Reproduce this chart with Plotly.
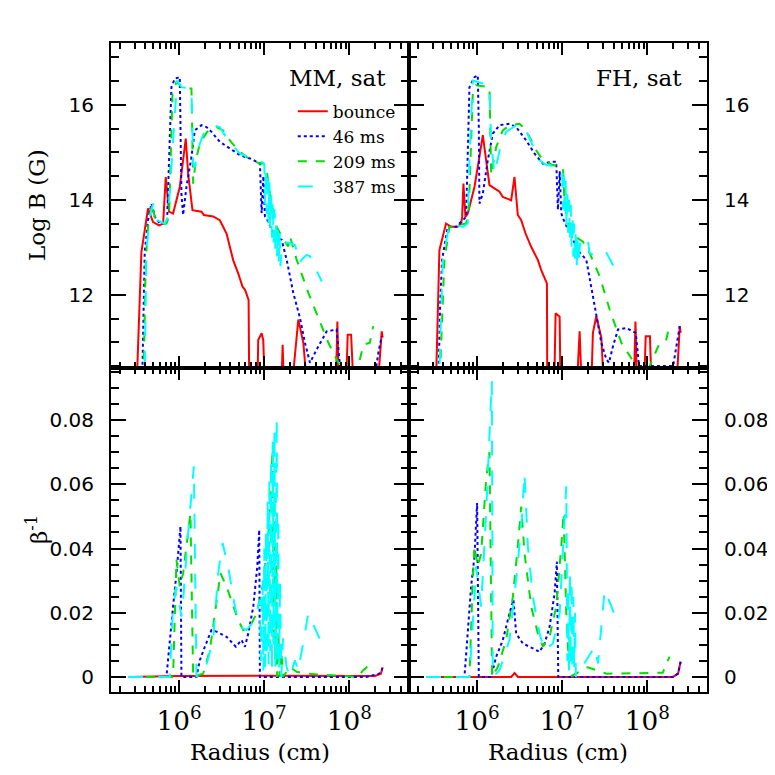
import numpy as np
import plotly.graph_objects as go

# radius values are stored as log10(r / cm)
# ---------------- top left: MM, sat (Log B) ----------------
tl_bounce_r = [5.40, 5.50, 5.557, 5.635, 5.694, 5.765, 5.812, 5.843, 5.882, 5.929, 6.008, 6.078, 6.106,
               6.157, 6.263, 6.290, 6.400, 6.478, 6.557, 6.635, 6.694, 6.745, 6.776, 6.816, 6.824,
               6.920, 6.929, 6.969, 6.988, 7.008, 7.20, 7.216, 7.232, 7.322, 7.40, 7.459, 7.506,
               7.84, 7.859, 7.875, 7.96, 7.98, 8.02, 8.05, 8.33, 8.38, 8.39]
tl_bounce_b = [10.0, 10.0, 12.90, 13.82, 13.53, 13.46, 13.50, 14.48, 13.75, 13.71, 14.27, 15.29, 14.55,
               13.78, 13.75, 13.68, 13.65, 13.57, 13.29, 12.73, 12.45, 12.17, 12.10, 11.89, 10.0,
               10.0, 11.05, 11.19, 11.05, 10.0, 10.0, 10.95, 10.0, 10.0, 11.48, 10.99, 10.0,
               10.0, 11.44, 10.0, 10.0, 11.16, 11.16, 10.0, 10.0, 11.23, 11.10]
tl_46_r = [5.40, 5.569, 5.596, 5.635, 5.675, 5.714, 5.773, 5.831, 5.859, 5.882, 5.910, 5.949, 6.008,
           6.027, 6.047, 6.086, 6.145, 6.184, 6.263, 6.322, 6.380, 6.478, 6.596, 6.714, 6.831, 6.929,
           6.949, 6.969, 6.99, 7.008, 7.03, 7.067, 7.14, 7.204, 7.263, 7.341, 7.420, 7.478, 7.537,
           7.616, 7.733, 7.85, 7.87, 7.90, 8.30, 8.34, 8.38]
tl_46_b = [10.0, 10.4, 12.90, 13.57, 13.92, 13.64, 13.50, 13.50, 13.57, 14.83, 16.37, 16.55, 16.58,
           14.13, 13.68, 14.27, 14.90, 15.46, 15.57, 15.53, 15.43, 15.22, 15.08, 14.94, 14.87, 14.80,
           14.77, 13.72, 14.50, 13.65, 13.60, 13.45, 13.20, 13.16, 12.74, 12.04, 11.51, 10.99, 10.57,
           10.85, 11.23, 11.27, 10.90, 10.30, 10.30, 10.78, 11.13]
tl_209_r = [5.40, 5.584, 5.608, 5.635, 5.682, 5.714, 5.792, 5.851, 5.882, 5.922, 5.969, 6.047, 6.145,
            6.165, 6.196, 6.243, 6.329, 6.439, 6.518, 6.596, 6.694, 6.792, 6.949, 6.988, 7.027, 7.067,
            7.106, 7.145, 7.224, 7.282, 7.302, 7.38, 7.518, 7.675, 7.753, 7.89, 7.92, 8.09, 8.165,
            8.24, 8.28]
tl_209_b = [10.0, 10.4, 12.73, 13.43, 13.92, 13.64, 13.50, 13.50, 13.64, 16.23, 16.48, 16.37, 16.34,
            14.34, 14.83, 15.18, 15.43, 15.53, 15.46, 15.25, 15.04, 14.90, 14.76, 14.77, 14.63, 14.14,
            13.79, 13.44, 13.16, 13.02, 13.23, 12.74, 12.04, 11.34, 10.99, 10.50, 10.20, 10.40, 10.95,
            10.99, 11.34]
tl_387_r = [5.40, 5.596, 5.616, 5.655, 5.694, 5.741, 5.831, 5.871, 5.976, 6.027, 6.145, 6.165, 6.184,
            6.243, 6.302, 6.400, 6.478, 6.576, 6.714, 6.812, 6.929, 6.99, 7.00, 7.01, 7.02, 7.03,
            7.04, 7.05, 7.06, 7.07, 7.08, 7.09, 7.10, 7.11, 7.12, 7.13, 7.14, 7.15, 7.16, 7.17, 7.18,
            7.19, 7.21, 7.28, 7.361, 7.42, 7.44, 7.498, 7.537, 7.675]
tl_387_b = [10.0, 10.4, 12.94, 13.64, 13.92, 13.57, 13.50, 13.64, 16.51, 16.37, 16.34, 14.76, 14.69,
            15.18, 15.46, 15.57, 15.53, 15.25, 14.97, 14.90, 14.83, 14.78, 14.75, 13.90, 14.70, 13.70,
            14.60, 13.50, 14.40, 13.40, 14.20, 13.20, 14.00, 13.10, 13.80, 12.90, 13.60, 12.80, 13.40,
            12.70, 13.30, 12.60, 13.10, 13.10, 13.05, 12.67, 12.74, 12.84, 12.81, 12.28]

# ---------------- top right: FH, sat (Log B) ----------------
tr_bounce_r = [5.40, 5.518, 5.557, 5.635, 5.694, 5.773, 5.812, 5.824, 5.839, 5.863, 5.890, 5.969,
               6.020, 6.067, 6.106, 6.145, 6.204, 6.263, 6.302, 6.400, 6.439, 6.478, 6.518, 6.569,
               6.635, 6.714, 6.753, 6.804, 6.820, 6.824, 6.905, 6.922, 6.969, 6.98, 7.17, 7.204,
               7.23, 7.34, 7.36, 7.40, 7.459, 7.49, 7.84, 7.86, 7.88, 7.96, 7.98, 8.03, 8.05, 8.34,
               8.38, 8.39]
tr_bounce_b = [10.0, 10.2, 12.94, 13.50, 13.43, 13.43, 13.50, 13.64, 14.34, 13.64, 13.71, 14.27,
               14.83, 15.36, 14.83, 14.31, 14.24, 14.17, 14.06, 13.99, 14.48, 13.68, 13.57, 13.29,
               13.01, 12.73, 12.52, 12.31, 12.24, 10.0, 10.0, 11.61, 11.54, 10.0, 10.0, 11.23,
               10.0, 10.0, 11.20, 11.55, 11.10, 10.0, 10.0, 11.44, 10.0, 10.0, 11.13, 11.13, 10.0, 10.0,
               11.34, 11.20]
tr_46_r = [5.40, 5.549, 5.565, 5.588, 5.655, 5.753, 5.871, 5.890, 5.910, 5.969, 6.008, 6.020, 6.027,
           6.067, 6.125, 6.184, 6.263, 6.380, 6.459, 6.576, 6.675, 6.773, 6.871, 6.929, 6.949, 6.97,
           6.988, 7.01, 7.086, 7.20, 7.282, 7.353, 7.40, 7.459, 7.518, 7.549, 7.596, 7.655, 7.753,
           7.863, 7.902, 8.302, 8.341, 8.380]
tr_46_b = [10.0, 10.4, 11.75, 12.73, 13.43, 13.43, 13.64, 14.83, 16.37, 16.58, 16.62, 15.53, 13.92,
           14.13, 14.83, 15.39, 15.57, 15.60, 15.53, 15.25, 14.97, 14.76, 14.80, 14.80, 13.79, 14.60,
           13.72, 13.60, 13.30, 12.90, 12.74, 12.04, 11.55, 10.99, 10.64, 10.57, 10.92, 11.27, 11.30,
           11.20, 10.50, 10.50, 10.92, 11.34]
tr_209_r = [5.40, 5.565, 5.616, 5.675, 5.792, 5.871, 5.902, 5.949, 5.988, 6.145, 6.165, 6.224, 6.302,
            6.380, 6.498, 6.576, 6.694, 6.773, 6.890, 7.008, 7.027, 7.066, 7.145, 7.243, 7.321, 7.439,
            7.557, 7.694, 7.870, 7.95, 8.027, 8.145, 8.223, 8.263]
tr_209_b = [10.0, 10.4, 12.73, 13.43, 13.47, 13.50, 13.78, 16.23, 16.41, 16.37, 14.52, 15.11, 15.46,
            15.57, 15.60, 15.46, 15.04, 14.83, 14.73, 14.69, 13.93, 13.51, 13.23, 13.12, 12.88, 12.39,
            11.69, 10.99, 10.50, 10.30, 10.50, 10.99, 11.06, 11.41]
tr_387_r = [5.40, 5.557, 5.596, 5.675, 5.831, 5.890, 5.910, 5.949, 5.969, 6.145, 6.165, 6.204, 6.282,
            6.341, 6.459, 6.557, 6.616, 6.733, 6.812, 6.99, 7.00, 7.01, 7.02, 7.03, 7.04, 7.05, 7.06,
            7.07, 7.08, 7.09, 7.10, 7.11, 7.12, 7.13, 7.14, 7.15, 7.16, 7.17, 7.18, 7.19, 7.21, 7.243,
            7.30, 7.32, 7.40, 7.42, 7.44, 7.52, 7.655]
tr_387_b = [10.0, 10.4, 12.73, 13.50, 13.43, 13.50, 14.83, 16.51, 16.50, 16.41, 15.18, 14.55, 15.18,
            15.43, 15.57, 15.53, 15.29, 14.83, 14.73, 14.69, 14.60, 13.80, 14.50, 13.60, 14.40, 13.40,
            14.20, 13.30, 14.00, 13.10, 13.90, 12.95, 13.70, 12.80, 13.50, 12.70, 13.40, 12.60, 13.20,
            12.65, 13.10, 13.23, 13.16, 12.88, 12.81, 12.84, 12.81, 12.88, 12.42]

# ---------------- bottom left: MM, sat (1/beta) ----------------
bl_bounce_r = [5.40, 6.00, 7.00, 8.30, 8.37, 8.39]
bl_bounce_v = [0.0, 0.0003, 0.0004, 0.0003, 0.0010, 0.0030]
bl_46_r = [5.40, 5.851, 5.929, 5.969, 6.016, 6.027, 6.204, 6.243, 6.302, 6.380, 6.439, 6.557, 6.667,
           6.733, 6.773, 6.812, 6.871, 6.918, 6.941, 6.949, 7.50, 8.20, 8.35, 8.39]
bl_46_v = [0.0, 0.0, 0.0219, 0.0323, 0.0469, 0.0, 0.0, 0.0052, 0.0094, 0.0146, 0.0141, 0.0125, 0.0094,
           0.0115, 0.0094, 0.0135, 0.0219, 0.0344, 0.0458, 0.0, 0.0, 0.0, 0.0010, 0.0027]
bl_209_r = [5.40, 5.929, 5.969, 6.008, 6.047, 6.133, 6.165, 6.282, 6.361, 6.439, 6.486, 6.557, 6.635,
            6.694, 6.753, 6.831, 6.910, 6.988, 7.05, 7.098, 7.11, 7.12, 7.13, 7.14, 7.15, 7.16, 7.18,
            7.20, 7.22, 7.302, 7.38, 7.498, 8.10, 8.16, 8.26]
bl_209_v = [0.0, 0.0, 0.0365, 0.0281, 0.0323, 0.0510, 0.0, 0.0010, 0.0083, 0.0240, 0.0323, 0.0281,
            0.0219, 0.0177, 0.0146, 0.0156, 0.0198, 0.0292, 0.0450, 0.0708, 0.0100, 0.0550, 0.0050,
            0.0350, 0.0, 0.0200, 0.0, 0.0080, 0.0, 0.0031, 0.0016, 0.0010, 0.0, 0.0020, 0.0043]
bl_387_r = [5.40, 5.89, 5.929, 5.969, 6.027, 6.047, 6.106, 6.173, 6.204, 6.302, 6.40, 6.459, 6.51,
            6.576, 6.655, 6.714, 6.792, 6.89, 6.949, 6.96, 6.98, 6.99, 7.00, 7.01, 7.02, 7.03, 7.04,
            7.05, 7.06, 7.07, 7.08, 7.09, 7.10, 7.11, 7.12, 7.13, 7.146, 7.155, 7.165, 7.175, 7.185,
            7.20, 7.22, 7.263, 7.30, 7.36, 7.40, 7.518, 7.675]
bl_387_v = [0.0, 0.0, 0.0219, 0.0280, 0.0188, 0.0240, 0.0448, 0.0656, 0.0, 0.0020, 0.0115, 0.0323,
            0.0417, 0.0344, 0.0219, 0.0156, 0.0146, 0.0177, 0.0240, 0.0050, 0.0300, 0.0020, 0.0400,
            0.0030, 0.0450, 0.0060, 0.0550, 0.0040, 0.0620, 0.0080, 0.0680, 0.0020, 0.0740, 0.0100,
            0.0770, 0.0030, 0.0808, 0.0050, 0.0500, 0.0020, 0.0300, 0.0, 0.0120, 0.0031, 0.0, 0.0052,
            0.0020, 0.0198, 0.0104]

# ---------------- bottom right: FH, sat (1/beta) ----------------
br_bounce_r = [5.40, 6.40, 6.44, 6.48, 8.30, 8.36, 8.39]
br_bounce_v = [0.0, 0.0, 0.0012, 0.0, 0.0, 0.0010, 0.0047]
br_46_r = [5.40, 5.851, 5.878, 5.929, 5.969, 6.0, 6.020, 6.165, 6.224, 6.302, 6.380, 6.427, 6.459,
           6.537, 6.655, 6.733, 6.792, 6.851, 6.910, 6.937, 6.953, 7.50, 8.30, 8.36, 8.39]
br_46_v = [0.0, 0.0, 0.0094, 0.0281, 0.0375, 0.0542, 0.0, 0.0, 0.0063, 0.0115, 0.0198, 0.0240, 0.0135,
           0.0104, 0.0089, 0.0078, 0.0104, 0.0156, 0.0260, 0.0359, 0.0, 0.0, 0.0, 0.0010, 0.0047]
br_209_r = [5.40, 5.91, 5.949, 5.969, 6.008, 6.047, 6.106, 6.145, 6.176, 6.243, 6.341, 6.42, 6.478,
            6.518, 6.557, 6.635, 6.714, 6.773, 6.851, 6.929, 6.988, 7.016, 7.047, 7.086, 7.30, 7.40,
            7.52, 8.18, 8.26]
br_209_v = [0.0, 0.0, 0.0300, 0.0406, 0.0344, 0.0385, 0.0615, 0.0700, 0.0, 0.0031, 0.0115, 0.0250,
            0.0406, 0.0531, 0.0385, 0.0219, 0.0135, 0.0094, 0.0125, 0.0219, 0.0406, 0.0510, 0.0200,
            0.0, 0.0030, 0.0020, 0.0010, 0.0013, 0.0063]
br_387_r = [5.40, 5.91, 5.969, 5.988, 6.047, 6.106, 6.173, 6.184, 6.263, 6.38, 6.478, 6.53, 6.557,
            6.596, 6.655, 6.733, 6.792, 6.89, 6.969, 7.047, 7.06, 7.07, 7.08, 7.09, 7.10, 7.11, 7.12,
            7.13, 7.14, 7.15, 7.16, 7.282, 7.38, 7.42, 7.498, 7.674]
br_387_v = [0.0, 0.0, 0.0250, 0.0344, 0.0219, 0.0510, 0.0922, 0.0, 0.0020, 0.0115, 0.0354, 0.0510,
            0.0635, 0.0406, 0.0250, 0.0135, 0.0083, 0.0104, 0.0198, 0.0594, 0.0050, 0.0280, 0.0020,
            0.0330, 0.0040, 0.0300, 0.0020, 0.0250, 0.0030, 0.0200, 0.0, 0.0052, 0.0094, 0.0042,
            0.0271, 0.0156]

labels = ["bounce", "46 ms", "209 ms", "387 ms"]
colors = ["#ff0000", "#0000ff", "#00e000", "#00ffff"]
dashes = ["solid", "dot", "dash", "longdash"]

panels = [
    ("x", "y", [(tl_bounce_r, tl_bounce_b), (tl_46_r, tl_46_b), (tl_209_r, tl_209_b), (tl_387_r, tl_387_b)]),
    ("x2", "y2", [(tr_bounce_r, tr_bounce_b), (tr_46_r, tr_46_b), (tr_209_r, tr_209_b), (tr_387_r, tr_387_b)]),
    ("x3", "y3", [(bl_bounce_r, bl_bounce_v), (bl_46_r, bl_46_v), (bl_209_r, bl_209_v), (bl_387_r, bl_387_v)]),
    ("x4", "y4", [(br_bounce_r, br_bounce_v), (br_46_r, br_46_v), (br_209_r, br_209_v), (br_387_r, br_387_v)]),
]

fig = go.Figure()
for k, (xa, ya, series) in enumerate(panels):
    for i, (r, v) in enumerate(series):
        fig.add_trace(go.Scatter(
            x=10 ** np.array(r), y=v, xaxis=xa, yaxis=ya, mode="lines",
            name=labels[i], legendgroup=labels[i], showlegend=(k == 0),
            line=dict(color=colors[i], width=2, dash=dashes[i])))

serif = "DejaVu Serif"
sans = "DejaVu Sans"

def xaxis_style(domain, labels_on, anchor):
    d = dict(type="log", range=[5.2, 8.7], domain=domain, anchor=anchor, dtick=1,
             ticks="inside", ticklen=12, tickwidth=1.5, tickcolor="black",
             showline=True, linecolor="black", linewidth=2, mirror="allticks",
             showgrid=False, zeroline=False, exponentformat="power", automargin=False,
             showticklabels=labels_on, tickfont=dict(family=serif, size=21, color="black"),
             ticklabelstandoff=6,
             minor=dict(ticks="inside", ticklen=6, tickwidth=1.5, tickcolor="black",
                        dtick="D1", showgrid=False))
    if labels_on:
        d["title"] = dict(text="Radius (cm)", font=dict(family=serif, size=23, color="black"),
                          standoff=8)
    return d

def yaxis_style(domain, rng, dtick, minor, side, anchor):
    return dict(range=rng, domain=domain, anchor=anchor, side=side, dtick=dtick,
                ticks="inside", ticklen=15, tickwidth=1.5, tickcolor="black",
                showline=True, linecolor="black", linewidth=2, mirror="allticks",
                showgrid=False, zeroline=False, ticklabelstandoff=11, automargin=False,
                tickfont=dict(family=sans, size=20, color="black"),
                minor=dict(ticks="inside", ticklen=8, tickwidth=1.5, tickcolor="black",
                           dtick=minor, showgrid=False))

top_rng = [10.47, 17.30]
bot_rng = [-0.0047, 0.0964]

# the page body adds an 8px offset, so the figure is 8px smaller and the margins shifted
fig.update_layout(
    width=767, height=767,
    margin=dict(l=103, r=68, t=35, b=83),
    paper_bgcolor="white", plot_bgcolor="white",
    xaxis=xaxis_style([0, 0.5], False, "y"),
    xaxis2=xaxis_style([0.5, 1], False, "y2"),
    xaxis3=xaxis_style([0, 0.5], True, "y3"),
    xaxis4=xaxis_style([0.5, 1], True, "y4"),
    yaxis=yaxis_style([0.5, 1], top_rng, 2, 0.5, "left", "x"),
    yaxis2=yaxis_style([0.5, 1], top_rng, 2, 0.5, "right", "x2"),
    yaxis3=yaxis_style([0, 0.5], bot_rng, 0.02, 0.005, "left", "x3"),
    yaxis4=yaxis_style([0, 0.5], bot_rng, 0.02, 0.005, "right", "x4"),
    legend=dict(x=0.305, y=0.922, xanchor="left", yanchor="top", bgcolor="rgba(0,0,0,0)",
                font=dict(family=serif, size=17, color="black"), tracegroupgap=0),
    showlegend=True,
)

# y axis titles placed as rotated text in the left margin
fig.add_annotation(text="Log B (G)", xref="paper", yref="paper", x=(37 - 111) / 596,
                   y=1 - (205 - 43) / 649, xanchor="center", yanchor="middle", textangle=-90,
                   showarrow=False, font=dict(family=serif, size=23, color="black"))
fig.add_annotation(text="β<sup>-1</sup>", xref="paper", yref="paper", x=(37 - 111) / 596,
                   y=1 - (530 - 43) / 649, xanchor="center", yanchor="middle", textangle=-90,
                   showarrow=False, font=dict(family=serif, size=23, color="black"))

fig.add_annotation(text="MM, sat", xref="paper", yref="paper", x=(388 - 111) / 596,
                   y=1 - (78 - 43) / 649, xanchor="right", yanchor="middle", showarrow=False,
                   font=dict(family=serif, size=23, color="black"))
fig.add_annotation(text="FH, sat", xref="paper", yref="paper", x=(684 - 111) / 596,
                   y=1 - (78 - 43) / 649, xanchor="right", yanchor="middle", showarrow=False,
                   font=dict(family=serif, size=23, color="black"))

fig.write_html("out.html")
